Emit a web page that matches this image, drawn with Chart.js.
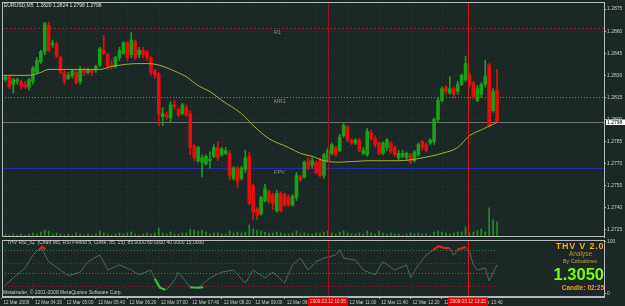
<!DOCTYPE html>
<html>
<head>
<meta charset="utf-8">
<title>EURUSD,M5</title>
<script src="https://cdn.jsdelivr.net/npm/chart.js@4.4.1/dist/chart.umd.min.js"></script>
<style>
  html, body { margin: 0; padding: 0; background: #1b2826; }
  #wrap { position: relative; width: 625px; height: 306px; overflow: hidden; background: #1b2826; }
  #wrap canvas { position: absolute; left: 0; }
</style>
</head>
<body>
<div id="wrap">
  <canvas id="main" width="625" height="238" style="top:0"></canvas>
  <canvas id="sub" width="625" height="68" style="top:238px"></canvas>
</div>
<script>
// EURUSD M5, 12 Mar 2009. Bar 0 = 03:40, bars below start at bar 1.
const firstBar = 1;
const open = [
  1.2827,1.2829,1.2824,1.2826,1.2826,1.2824,1.2822,1.2826,1.2832,1.2839,
  1.2846,1.2864,1.2851,1.2851,1.2842,1.2832,1.2828,1.2830,1.2832,1.2826,
  1.2834,1.2832,1.2834,1.2834,1.2837,1.2847,1.2844,1.2837,1.2836,1.2842,
  1.2845,1.2852,1.2844,1.2853,1.2844,1.2847,1.2846,1.2842,1.2833,1.2831,
  1.2802,1.2803,1.2801,1.2810,1.2807,1.2804,1.2808,1.2804,1.2782,1.2772,
  1.2771,1.2770,1.2772,1.2775,1.2781,1.2776,1.2777,1.2777,1.2760,1.2767,
  1.2760,1.2766,1.2775,1.2755,1.2739,1.2736,1.2745,1.2751,1.2749,1.2738,
  1.2750,1.2749,1.2747,1.2742,1.2747,1.2761,1.2761,1.2772,1.2769,1.2771,
  1.2772,1.2762,1.2772,1.2777,1.2781,1.2779,1.2789,1.2795,1.2786,1.2784,
  1.2786,1.2777,1.2776,1.2791,1.2787,1.2784,1.2777,1.2781,1.2784,1.2781,
  1.2774,1.2775,1.2774,1.2776,1.2772,1.2776,1.2785,1.2783,1.2784,1.2785,
  1.2800,1.2813,1.2822,1.2818,1.2821,1.2819,1.2824,1.2827,1.2830,1.2825,
  1.2813,1.2817,1.2824,1.2837,1.2806,1.2820
];
const high = [
  1.2830,1.2830,1.2828,1.2828,1.2827,1.2826,1.2828,1.2836,1.2842,1.2847,
  1.2866,1.2866,1.2854,1.2853,1.2843,1.2834,1.2832,1.2834,1.2833,1.2836,
  1.2835,1.2835,1.2834,1.2837,1.2849,1.2857,1.2845,1.2840,1.2843,1.2849,
  1.2853,1.2853,1.2859,1.2854,1.2849,1.2849,1.2847,1.2843,1.2834,1.2832,
  1.2808,1.2805,1.2812,1.2813,1.2808,1.2811,1.2810,1.2806,1.2783,1.2782,
  1.2776,1.2776,1.2778,1.2783,1.2785,1.2781,1.2781,1.2779,1.2768,1.2768,
  1.2768,1.2779,1.2778,1.2756,1.2740,1.2748,1.2756,1.2752,1.2750,1.2752,
  1.2751,1.2750,1.2749,1.2749,1.2764,1.2762,1.2772,1.2774,1.2774,1.2772,
  1.2774,1.2777,1.2781,1.2784,1.2782,1.2790,1.2798,1.2796,1.2787,1.2787,
  1.2787,1.2781,1.2794,1.2793,1.2789,1.2785,1.2785,1.2787,1.2785,1.2782,
  1.2779,1.2779,1.2778,1.2777,1.2779,1.2784,1.2786,1.2784,1.2787,1.2801,
  1.2815,1.2822,1.2823,1.2829,1.2822,1.2826,1.2831,1.2843,1.2832,1.2826,
  1.2823,1.2825,1.2840,1.2838,1.2821,1.2834
];
const low = [
  1.2826,1.2821,1.2818,1.2824,1.2821,1.2821,1.2820,1.2824,1.2831,1.2838,
  1.2844,1.2846,1.2849,1.2842,1.2831,1.2824,1.2827,1.2828,1.2824,1.2824,
  1.2830,1.2831,1.2830,1.2832,1.2836,1.2844,1.2834,1.2834,1.2835,1.2840,
  1.2844,1.2840,1.2842,1.2841,1.2842,1.2842,1.2840,1.2830,1.2828,1.2796,
  1.2796,1.2800,1.2798,1.2807,1.2802,1.2803,1.2802,1.2776,1.2772,1.2771,
  1.2761,1.2769,1.2767,1.2774,1.2772,1.2775,1.2776,1.2759,1.2759,1.2754,
  1.2759,1.2764,1.2742,1.2732,1.2732,1.2735,1.2744,1.2743,1.2739,1.2737,
  1.2737,1.2741,1.2741,1.2741,1.2745,1.2758,1.2760,1.2766,1.2767,1.2763,
  1.2761,1.2760,1.2771,1.2776,1.2775,1.2778,1.2788,1.2785,1.2783,1.2783,
  1.2778,1.2776,1.2775,1.2786,1.2781,1.2776,1.2776,1.2779,1.2777,1.2775,
  1.2772,1.2774,1.2772,1.2770,1.2771,1.2775,1.2779,1.2778,1.2783,1.2783,
  1.2798,1.2812,1.2817,1.2817,1.2815,1.2817,1.2823,1.2826,1.2822,1.2814,
  1.2812,1.2815,1.2822,1.2795,1.2805,1.2798
];
const close = [
  1.2829,1.2822,1.2827,1.2827,1.2823,1.2822,1.2827,1.2835,1.2840,1.2846,
  1.2865,1.2847,1.2852,1.2843,1.2832,1.2826,1.2830,1.2833,1.2825,1.2834,
  1.2832,1.2834,1.2832,1.2836,1.2848,1.2845,1.2836,1.2836,1.2842,1.2847,
  1.2852,1.2842,1.2854,1.2842,1.2847,1.2844,1.2842,1.2832,1.2830,1.2804,
  1.2804,1.2802,1.2810,1.2809,1.2803,1.2810,1.2803,1.2781,1.2774,1.2781,
  1.2774,1.2775,1.2773,1.2781,1.2774,1.2780,1.2779,1.2762,1.2767,1.2758,
  1.2767,1.2774,1.2743,1.2737,1.2735,1.2747,1.2753,1.2744,1.2743,1.2750,
  1.2738,1.2742,1.2742,1.2748,1.2762,1.2759,1.2771,1.2767,1.2772,1.2764,
  1.2762,1.2776,1.2779,1.2783,1.2776,1.2788,1.2796,1.2786,1.2784,1.2786,
  1.2779,1.2779,1.2792,1.2787,1.2783,1.2777,1.2784,1.2786,1.2778,1.2776,
  1.2777,1.2777,1.2777,1.2771,1.2778,1.2783,1.2781,1.2779,1.2786,1.2800,
  1.2813,1.2821,1.2819,1.2821,1.2817,1.2824,1.2830,1.2838,1.2824,1.2815,
  1.2821,1.2824,1.2829,1.2796,1.2819,1.2798
];
const volume = [
  30,20,30,20,30,20,30,40,30,50,
  70,60,30,40,30,20,30,20,40,30,
  20,30,20,30,60,40,30,20,30,40,
  30,40,50,30,20,30,40,30,40,90,
  40,30,50,30,30,40,40,80,70,60,
  70,50,30,40,40,30,30,60,40,50,
  40,50,120,80,70,60,50,40,40,50,
  40,30,30,40,60,30,40,30,30,40,
  40,50,60,40,30,50,60,40,30,30,
  40,30,60,40,30,60,40,30,40,30,
  30,20,30,40,30,40,30,30,20,50,
  60,50,40,30,40,50,50,100,40,50,
  60,80,50,290,170,150
];

// moving average
const maBars   = [0,7,10,12,25,28,35,37,40,43,47,50,53,56,61,64,68,73,76,79,82,86,93,101,109,112,116,119,122,126];
const maValues = [1.2830,1.2830,1.2832,1.2834,1.2834,1.2836,1.2838,1.2838,1.2837,1.2834,1.2829,1.2823,1.2819,1.2813,1.2804,1.2796,1.2787,1.2781,1.2777,1.2775,1.2772,1.2771,1.2772,1.2772,1.2775,1.2777,1.2781,1.2789,1.2793,1.2798];

// THV RSI sub window
const rsiBars   = [1,3,6,8,10,12,15,17,20,22,25,27,30,33,35,38,39,40,42,44,45,48,50,53,56,59,62,64,67,69,72,74,76,78,80,82,85,86,87,90,92,95,97,100,103,104,106,108,110,111,113,114,115,116,117,118,119,120,121,123,124,126];
const rsiValues = [17,31,50,75,90,62,46,35,42,62,75,46,56,46,37,46,29,12,8,27,42,13,12,31,42,46,21,46,31,42,21,56,69,46,62,69,75,85,69,65,46,37,62,46,56,31,56,75,85,92,88,88,75,85,88,90,81,56,46,50,25,56];
const rsiHiBars   = [9.5,10.3,11.2,null,109.8,111.2,112.8,113.8,null,115.8,117.1,118];
const rsiHiValues = [84,91,86,null,85,92,88,88,null,85,88,90];
const rsiLoBars   = [39,40.3,41.6,null,48,50,51.3];
const rsiLoValues = [29,12,8,null,13,12,13];
const rsiLevels = [85, 60, 40, 15];
const rsiLevelColors = ['#2a8c2a', '#a42020', '#2a8c2a', '#a42020'];

// axes
const priceTicks = [1.2725,1.2740,1.2755,1.2770,1.2785,1.2800,1.2815,1.2830,1.2845,1.2860,1.2875];
const timeTickBars = [0,8,16,24,32,40,48,56,64,72,80,88,96,104,112,120];
const timeTickLabels = ['12 Mar 2009','12 Mar 04:20','12 Mar 05:00','12 Mar 05:40','12 Mar 06:20','12 Mar 07:00','12 Mar 07:40','12 Mar 08:20','12 Mar 09:00','12 Mar 09:40','12 Mar 10:20','12 Mar 11:00','12 Mar 11:40','12 Mar 12:20','12 Mar 13:00','12 Mar 13:40'];

// pivots and lines
const pivotNames  = ['R1', 'MR1', 'FPV'];
const pivotPrices = [1.2862, 1.2815, 1.2767];
const pivotColors = ['#a02424', '#7c7c7c', '#1f2fa8'];
const pivotDash   = [[2, 2], [1, 2], []];
const pivotLabelBar = 69.3;
const bidPrice = 1.2798;
const vlineBars   = [83, 118.6];
const vlineColors = ['#8e1c1c', '#e01414'];
const vlineLabels = ['2009.03.12 10:35', '2009.03.12 13:35'];

const header = 'EURUSD,M5  1.2820 1.2824 1.2798 1.2798';
const rsiTitle = 'THV RSI_x2  (Chart M5, RSI Period 5, Close, 85, 15)  85.0000 60.0000 40.0000 15.0000';

const xMin = 0.13, xMax = 153.2;
const priceMin = 1.27202, priceMax = 1.28798;

const upColor = '#18a018', downColor = '#e60d0d';
const frameColor = '#b8b8b8';
const textColor = '#c8c8c8';
const fam = '"Liberation Sans", Arial, sans-serif';
const font = (s, b) => (b ? 'bold ' : '') + s + 'px ' + fam;

const bars = open.map((_, i) => firstBar + i);
const lastBar = bars[bars.length - 1];
const colors = open.map((o, i) => close[i] >= o ? upColor : downColor);

function hline(ctx, x1, y, x2) { ctx.beginPath(); ctx.moveTo(x1, y); ctx.lineTo(x2, y); ctx.stroke(); }
function vline(ctx, x, y1, y2) { ctx.beginPath(); ctx.moveTo(x, y1); ctx.lineTo(x, y2); ctx.stroke(); }

function drawGrid(ctx, a, x, ys) {
  ctx.strokeStyle = 'rgba(120,140,135,0.18)';
  ctx.lineWidth = 1;
  ctx.setLineDash([1, 3]);
  ys.forEach(py => hline(ctx, a.left, Math.round(py) + 0.5, a.right));
  timeTickBars.forEach(b => { const px = Math.round(x.getPixelForValue(b)) + 0.5; if (px > a.left) vline(ctx, px, a.top, a.bottom); });
  ctx.setLineDash([]);
}

function drawVLines(ctx, a, x) {
  ctx.lineWidth = 1;
  vlineBars.forEach((b, i) => {
    ctx.strokeStyle = vlineColors[i];
    vline(ctx, Math.round(x.getPixelForValue(b)) + 0.5, a.top, a.bottom);
  });
}

function drawFrame(ctx, a) {
  ctx.strokeStyle = frameColor;
  ctx.lineWidth = 1;
  ctx.strokeRect(a.left + 0.5, a.top + 0.5, a.right - a.left, a.bottom - a.top - 1);
}

const mainDecor = {
  id: 'mainDecor',
  beforeDatasetsDraw(chart) {
    const { ctx, chartArea: a, scales: { x, y } } = chart;
    ctx.save();
    ctx.beginPath(); ctx.rect(a.left, a.top, a.right - a.left, a.bottom - a.top); ctx.clip();
    drawGrid(ctx, a, x, priceTicks.map(v => y.getPixelForValue(v)));
    ctx.lineWidth = 1;
    // pivot levels
    pivotNames.forEach((name, i) => {
      const py = Math.round(y.getPixelForValue(pivotPrices[i])) + 0.5;
      ctx.strokeStyle = pivotColors[i];
      ctx.setLineDash(pivotDash[i]);
      hline(ctx, a.left, py, a.right);
      ctx.setLineDash([]);
      ctx.fillStyle = '#8c8c8c';
      ctx.font = font(5.5);
      ctx.textBaseline = 'top';
      ctx.fillText(name, x.getPixelForValue(pivotLabelBar), py + 1.5);
    });
    // bid line
    ctx.strokeStyle = '#6e6e6e';
    hline(ctx, a.left, Math.round(y.getPixelForValue(bidPrice)) + 0.5, a.right);
    ctx.restore();
  },
  afterDraw(chart) {
    const { ctx, chartArea: a, scales: { x, y } } = chart;
    ctx.save();
    drawVLines(ctx, a, x);
    drawFrame(ctx, a);
    ctx.fillStyle = '#e0e0e0';
    ctx.font = font(5);
    ctx.textBaseline = 'middle';
    ctx.fillText(header, 4, 5.5);
    // current price box on the price axis
    const by = y.getPixelForValue(bidPrice);
    ctx.fillStyle = '#ffffff';
    ctx.fillRect(a.right + 2, Math.round(by) - 2.5, 19, 5.5);
    ctx.fillStyle = '#000000';
    ctx.fillText(bidPrice.toFixed(4), a.right + 3, by + 0.3);
    ctx.restore();
  }
};

const subDecor = {
  id: 'subDecor',
  beforeDatasetsDraw(chart) {
    const { ctx, chartArea: a, scales: { x, y } } = chart;
    ctx.save();
    drawGrid(ctx, a, x, []);
    ctx.lineWidth = 1;
    ctx.setLineDash([1, 2]);
    const xEnd = x.getPixelForValue(lastBar);
    rsiLevels.forEach((v, i) => {
      ctx.strokeStyle = rsiLevelColors[i];
      hline(ctx, a.left, Math.round(y.getPixelForValue(v)) + 0.5, xEnd);
    });
    ctx.setLineDash([]);
    ctx.restore();
  },
  afterDraw(chart) {
    const { ctx, chartArea: a, scales: { x } } = chart;
    ctx.save();
    drawVLines(ctx, a, x);
    drawFrame(ctx, a);
    ctx.textBaseline = 'middle';
    ctx.fillStyle = textColor;
    ctx.font = font(5);
    ctx.fillText(rsiTitle, 7, 4.5);
    ctx.fillText('Metatrader, \u00a9 2001-2008 MetaQuotes Software Corp.', 3, 54.5);
    // info panel
    ctx.textAlign = 'center';
    ctx.fillStyle = '#f5a623';
    ctx.font = font(9, true);
    ctx.letterSpacing = '0.8px';
    ctx.fillText('THV V 2.0', 580, 8.5);
    ctx.letterSpacing = '0px';
    ctx.fillStyle = '#d0901c';
    ctx.font = font(6.5);
    ctx.fillText('Analyse', 580.5, 16);
    ctx.fillStyle = '#cfa23a';
    ctx.font = font(5.3);
    ctx.fillText('By Cobraforex', 580, 23.5);
    ctx.textAlign = 'right';
    ctx.fillStyle = '#7cfc00';
    ctx.font = font(16.5, true);
    ctx.fillText('1.3050', 604, 37);
    ctx.fillStyle = '#f0a020';
    ctx.font = font(6.5, true);
    ctx.fillText('Candle: 02:25', 604, 50);
    // time labels of the vertical lines
    ctx.textAlign = 'center';
    ctx.font = font(4.6);
    vlineBars.forEach((b, i) => {
      const px = Math.round(x.getPixelForValue(b));
      ctx.fillStyle = '#e00000';
      ctx.fillRect(px - 20, a.bottom + 0.5, 40, 9);
      ctx.fillStyle = '#ffd0d0';
      ctx.fillText(vlineLabels[i], px, a.bottom + 5);
    });
    ctx.restore();
  }
};

const axisTicks = { color: textColor, font: { size: 5, family: fam }, padding: 1 };
const axisGrid = { drawOnChartArea: false, tickLength: 2, color: frameColor };

new Chart(document.getElementById('main'), {
  type: 'bar',
  data: {
    datasets: [
      { type: 'bar', data: bars.map((b, i) => ({ x: b, y: volume[i] })), yAxisID: 'yv', backgroundColor: '#1f8f1f', barThickness: 1, grouped: false, order: 5 },
      { type: 'bar', data: bars.map((b, i) => ({ x: b, y: [low[i], high[i]] })), backgroundColor: colors, barThickness: 1, grouped: false, order: 3 },
      { type: 'bar', data: bars.map((b, i) => ({ x: b, y: [open[i], close[i]] })), backgroundColor: colors, barThickness: 3, minBarLength: 1, grouped: false, order: 2 },
      { type: 'line', data: maBars.map((b, i) => ({ x: b, y: maValues[i] })), borderColor: '#a8ac38', borderWidth: 1, pointRadius: 0, cubicInterpolationMode: 'monotone', order: 1 }
    ]
  },
  options: {
    responsive: false, animation: false, events: [],
    layout: { padding: { left: 2, top: 2, right: 0, bottom: 1 } },
    plugins: { legend: { display: false }, tooltip: { enabled: false } },
    scales: {
      x: { type: 'linear', min: xMin, max: xMax, offset: false, display: false },
      y: {
        position: 'right', min: priceMin, max: priceMax,
        afterFit(s) { s.width = 21; s.paddingTop = 0; s.paddingBottom = 0; },
        afterBuildTicks(s) { s.ticks = priceTicks.map(v => ({ value: v })); },
        ticks: { ...axisTicks, callback: v => v.toFixed(4) },
        grid: axisGrid,
        border: { color: frameColor }
      },
      yv: { display: false, min: 0, max: 2340 }
    }
  },
  plugins: [mainDecor]
});

new Chart(document.getElementById('sub'), {
  type: 'line',
  data: {
    datasets: [
      { data: rsiBars.map((b, i) => ({ x: b, y: rsiValues[i] })), borderColor: '#59625f', borderWidth: 1, pointRadius: 0, order: 3 },
      { data: rsiHiBars.map((b, i) => ({ x: b, y: rsiHiValues[i] })), borderColor: '#e42020', borderWidth: 2.2, pointRadius: 0, order: 2 },
      { data: rsiLoBars.map((b, i) => ({ x: b, y: rsiLoValues[i] })), borderColor: '#36c236', borderWidth: 2.2, pointRadius: 0, order: 1 }
    ]
  },
  options: {
    responsive: false, animation: false, events: [],
    layout: { padding: { left: 2, top: 2, right: 0, bottom: 0 } },
    plugins: { legend: { display: false }, tooltip: { enabled: false } },
    scales: {
      x: {
        type: 'linear', min: xMin, max: xMax, offset: false, position: 'bottom',
        afterFit(s) { s.height = 9; s.paddingLeft = 0; s.paddingRight = 0; },
        afterBuildTicks(s) { s.ticks = timeTickBars.map(v => ({ value: v })); },
        ticks: { ...axisTicks, font: { size: 4.6, family: fam }, autoSkip: false, maxRotation: 0, align: 'start', labelOffset: 2,
                 callback: (v, i) => timeTickLabels[i] },
        grid: axisGrid,
        border: { color: frameColor }
      },
      y: {
        position: 'right', min: -5.8, max: 103.8,
        afterFit(s) { s.width = 21; s.paddingTop = 0; s.paddingBottom = 0; },
        afterBuildTicks(s) { s.ticks = [{ value: 0 }, { value: 100 }]; },
        ticks: axisTicks,
        grid: axisGrid,
        border: { color: frameColor }
      }
    }
  },
  plugins: [subDecor]
});
</script>
</body>
</html>
